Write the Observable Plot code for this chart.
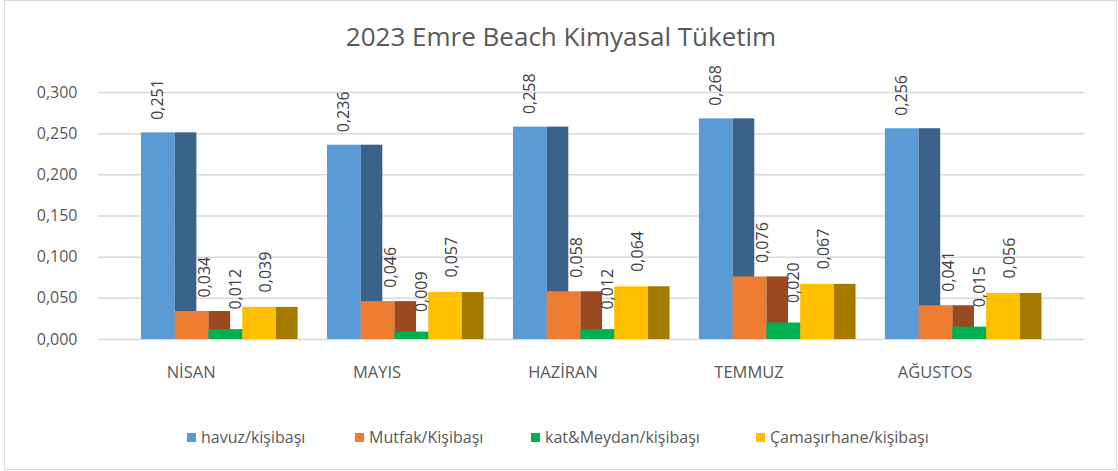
<!DOCTYPE html>
<html>
<head>
<meta charset="utf-8">
<script src="https://cdn.jsdelivr.net/npm/d3@7"></script>
<script src="https://cdn.jsdelivr.net/npm/@observablehq/plot@0.6"></script>
<style>
  html, body { margin: 0; padding: 0; background: #fff; }
  #wrap { position: relative; width: 1118px; height: 471px; overflow: hidden; font-family: "Open Sans", sans-serif; color: #595959; }
  #frame { position: absolute; left: 4px; top: 0px; width: 1113px; height: 470px; border: 1px solid #d9d9d9; box-sizing: border-box; }
  #title { position: absolute; left: 0; width: 1122px; top: 18px; text-align: center; font-size: 26px; color: #595959; }
  #chart { position: absolute; left: 0; top: 0; }
  .lg { position: absolute; top: 426px; font-size: 16px; color: #595959; white-space: nowrap; display: flex; align-items: center; }
  .lg span.sw { display: inline-block; width: 9px; height: 9px; margin-right: 5px; }
</style>
</head>
<body>
<div id="wrap">
  <div id="frame"></div>
  <div id="chart"></div>
  <div id="title">2023 Emre Beach Kimyasal Tüketim</div>
  <div id="legend"></div>
</div>
<script>
// ---- data ----
const months = ["NİSAN", "MAYIS", "HAZİRAN", "TEMMUZ", "AĞUSTOS"];
const seriesNames = ["havuz/kişibaşı", "Mutfak/Kişibaşı", "kat&Meydan/kişibaşı", "Çamaşırhane/kişibaşı"];
const havuz = [0.251, 0.236, 0.258, 0.268, 0.256];
const mutfak = [0.034, 0.046, 0.058, 0.076, 0.041];
const katMeydan = [0.012, 0.009, 0.012, 0.020, 0.015];
const camasirhane = [0.039, 0.057, 0.064, 0.067, 0.056];
const yTicks = [0, 0.05, 0.1, 0.15, 0.2, 0.25, 0.3];

// ---- styles / layout ----
const frontColors = ["#5B9BD5", "#ED7D31", "#00B050", "#FFC000"];
const sideColors = ["#3B6289", "#9A4A1E", "#007A38", "#A47B00"];
const labelDx = [0, 13, 10, 6];
const labelGap = [13, 14, 20, 15];
const pitch = 5.51;      // group spacing in bar-width units
const depth = 0.64;      // side face width in bar-width units
const monthLabelPos = 1.47;

const values = [havuz, mutfak, katMeydan, camasirhane];
const rows = [];
values.forEach((arr, si) => arr.forEach((v, mi) => rows.push({month: months[mi], mi, si, value: v})));
const fmt = d => d.toFixed(3).replace(".", ",");
const xStart = d => d.mi * pitch + d.si;

const marks = [
  Plot.ruleY(yTicks, {stroke: "#d9d9d9", strokeWidth: 1.5})
];
for (let si = 0; si < values.length; si++) {
  const sub = rows.filter(d => d.si === si);
  marks.push(Plot.rect(sub, {x1: d => xStart(d), x2: d => xStart(d) + 1, y1: d => 0, y2: "value", fill: frontColors[si]}));
  marks.push(Plot.rect(sub, {x1: d => xStart(d) + 1, x2: d => xStart(d) + 1 + depth, y1: d => 0, y2: "value", fill: sideColors[si]}));
}
for (let si = 0; si < values.length; si++) {
  const sub = rows.filter(d => d.si === si);
  marks.push(Plot.text(sub, {x: d => xStart(d) + 0.5, y: "value", text: d => fmt(d.value), rotate: -90, textAnchor: "start", dx: labelDx[si], dy: -labelGap[si], fill: "#404040", fontSize: 16}));
}
marks.push(Plot.text(months, {x: (d, i) => i * pitch + monthLabelPos, y: d => 0, text: d => d, dy: 33, fill: "#595959", fontSize: 16.5}));

const chart = Plot.plot({
  width: 1118,
  height: 400,
  marginLeft: 98,
  marginRight: 34,
  marginTop: 92,
  marginBottom: 61,
  style: {fontFamily: "Open Sans, sans-serif", fontSize: "16px", color: "#595959", background: "transparent", overflow: "visible"},
  x: {domain: [-1.274, 27.94], axis: null},
  y: {domain: [0, 0.3], ticks: yTicks, tickFormat: fmt, tickSize: 0, tickPadding: 21, label: null},
  marks
});
document.getElementById("chart").appendChild(chart);

const legendLeft = [187, 355, 531, 756];
const lg = document.getElementById("legend");
seriesNames.forEach((name, i) => {
  const div = document.createElement("div");
  div.className = "lg";
  div.style.left = legendLeft[i] + "px";
  const sw = document.createElement("span");
  sw.className = "sw";
  sw.style.background = frontColors[i];
  div.appendChild(sw);
  div.appendChild(document.createTextNode(name));
  lg.appendChild(div);
});
</script>
</body>
</html>
